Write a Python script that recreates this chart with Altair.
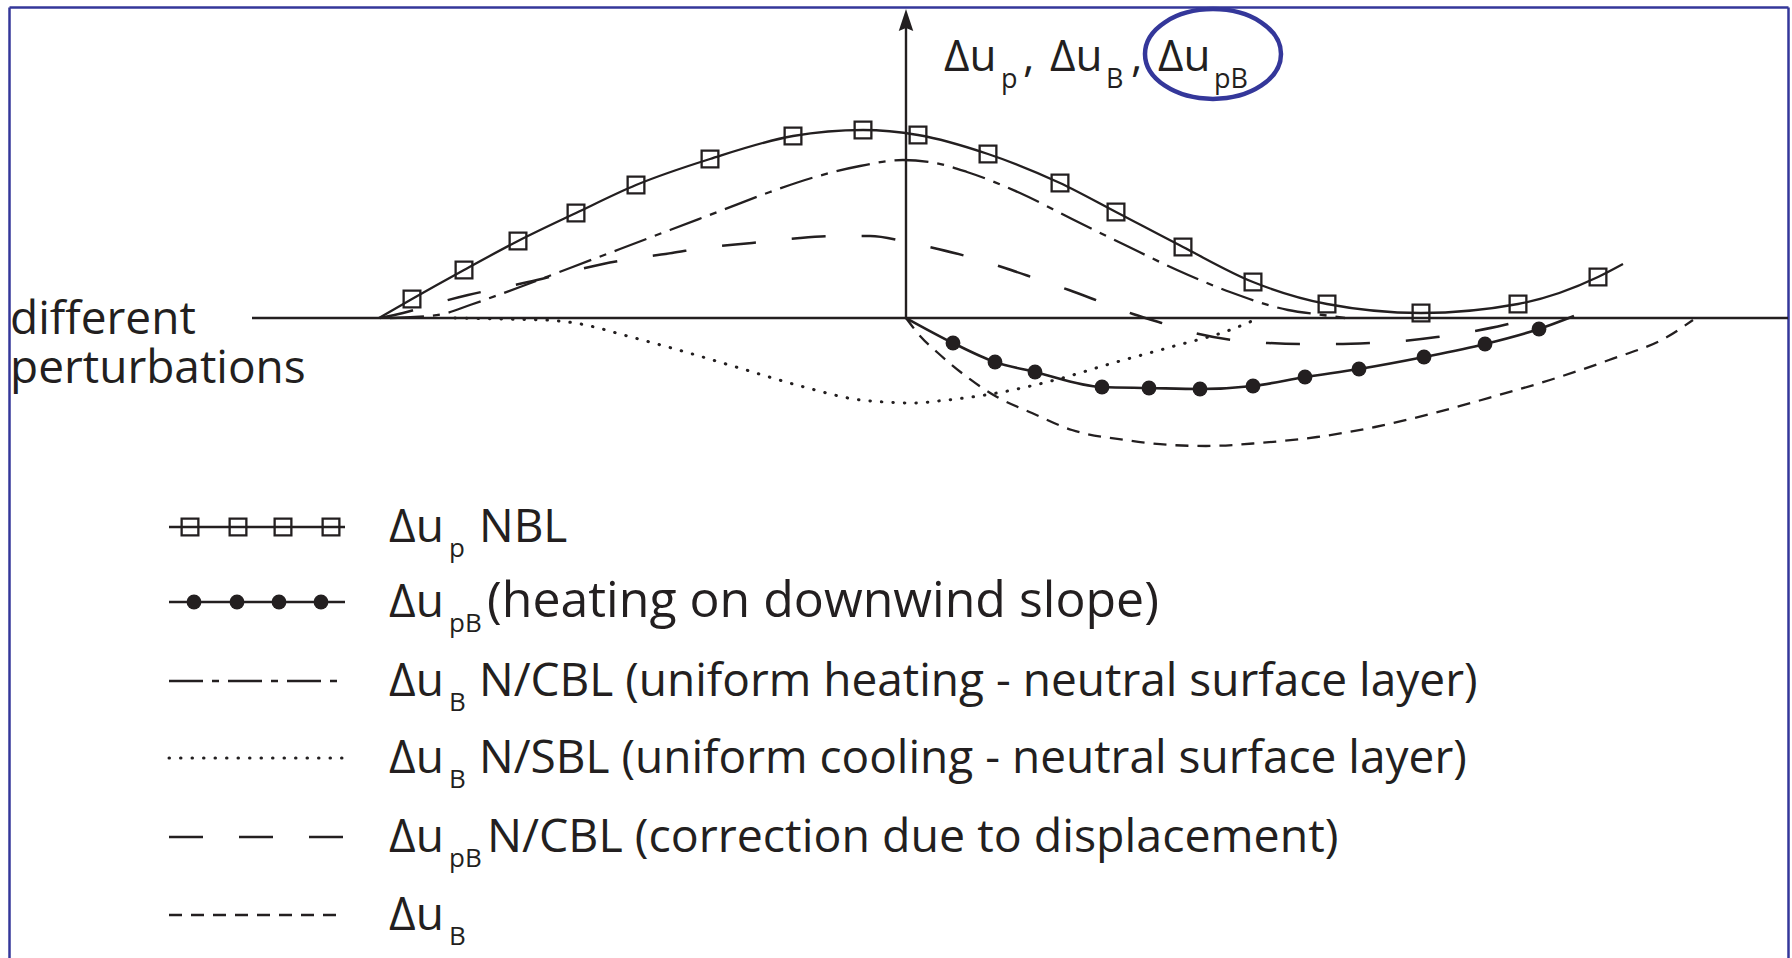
import altair as alt
import pandas as pd

# ---------------------------------------------------------------- layout
W, H = 1792, 958            # page size
OX, OY, U = 906, 318, 100.0  # pixel position of the diagram origin, px per data unit


def X(px):
    return round((px - OX) / U, 3)


def Y(py):
    return round((OY - py) / U, 3)


# ---------------------------------------------------------------- data
# Δu_p NBL (solid line with open squares)
nbl_x = [-5.27, -4.94, -4.42, -3.88, -3.30, -2.70, -1.96, -1.13, -0.43, 0.12, 0.82,
         1.54, 2.10, 2.77, 3.47, 4.21, 5.15, 6.12, 6.92, 7.17]
nbl_y = [0.00, 0.19, 0.48, 0.77, 1.05, 1.33, 1.59, 1.82, 1.88, 1.83, 1.64,
         1.35, 1.06, 0.71, 0.36, 0.14, 0.05, 0.14, 0.41, 0.54]
nbl_mark = [0] + [1] * 18 + [0]

# Δu_pB heating on downwind slope (solid line with filled circles)
heat_x = [0.00, 0.47, 0.89, 1.29, 1.96, 2.43, 2.94, 3.47, 3.99, 4.53, 5.18, 5.79, 6.33, 6.68]
heat_y = [0.00, -0.25, -0.44, -0.54, -0.69, -0.70, -0.71, -0.68, -0.59, -0.51, -0.39, -0.26, -0.11, 0.02]
heat_mark = [0] + [1] * 12 + [0]

# Δu_B N/CBL uniform heating (dash-dot)
cbl_x = [-5.16, -4.91, -4.63, -4.36, -3.86, -3.36, -2.86, -2.36, -1.86, -1.36, -0.91, -0.46,
         -0.03, 0.24, 0.61, 1.14, 1.66, 2.19, 2.71, 3.24, 3.82, 4.17, 4.39]
cbl_y = [0.00, 0.01, 0.04, 0.13, 0.31, 0.50, 0.69, 0.88, 1.07, 1.26, 1.41, 1.52,
         1.58, 1.56, 1.46, 1.25, 0.99, 0.73, 0.48, 0.26, 0.08, 0.03, 0.00]

# Δu_B N/SBL uniform cooling (dotted)
sbl_x = [-4.51, -4.06, -3.61, -3.31, -2.75, -2.17, -1.60, -1.02, -0.45, 0.09, 0.32, 0.91,
         1.49, 2.07, 2.65, 3.24, 3.53]
sbl_y = [0.00, -0.01, -0.02, -0.05, -0.19, -0.35, -0.52, -0.69, -0.82, -0.85, -0.83, -0.75,
         -0.62, -0.45, -0.29, -0.12, 0.00]

# Δu_pB N/CBL correction due to displacement (long dashes)
corr_x = [-5.26, -5.03, -4.69, -4.38, -4.01, -3.69, -3.38, -3.03, -2.69, -2.34, -2.03, -1.54,
          -1.06, -0.66, -0.36, 0.01, 0.32, 0.67, 0.99, 1.31, 1.63, 1.95, 2.27, 2.59, 2.93,
          3.26, 3.62, 3.96, 4.29, 4.64, 4.96, 5.31, 5.63, 5.98, 6.24]
corr_y = [0.00, 0.05, 0.15, 0.23, 0.31, 0.38, 0.46, 0.54, 0.60, 0.65, 0.70, 0.75,
          0.80, 0.82, 0.82, 0.76, 0.69, 0.60, 0.50, 0.39, 0.28, 0.16, 0.04, -0.06, -0.16,
          -0.22, -0.25, -0.26, -0.26, -0.25, -0.23, -0.19, -0.14, -0.07, 0.00]

# Δu_B (short dashes)
ub_x = [0.00, 0.15, 0.32, 0.61, 0.91, 1.26, 1.66, 2.19, 2.65, 3.00, 3.53, 4.11, 4.69,
        5.28, 5.86, 6.44, 7.03, 7.61, 7.87]
ub_y = [0.00, -0.19, -0.35, -0.59, -0.79, -0.95, -1.12, -1.22, -1.27, -1.28, -1.25, -1.19, -1.09,
        -0.95, -0.79, -0.62, -0.42, -0.19, -0.02]

# legend entries: (main, subscript, rest)
legend_main = ["Δu", "Δu", "Δu", "Δu", "Δu", "Δu"]
legend_sub = ["p", "pB", "B", "B", "pB", "B"]
legend_rest = ["NBL",
               "(heating on downwind slope)",
               "N/CBL (uniform heating - neutral surface layer)",
               "N/SBL (uniform cooling - neutral surface layer)",
               "N/CBL (correction due to displacement)",
               ""]
axis_main = ["Δu", "Δu", "Δu"]
axis_sub = ["p", "B", "pB"]
side_label = ["different", "perturbations"]

# ---------------------------------------------------------------- layout constants (px)
ROW_Y = [527, 602, 681, 758, 837, 915]
REST_FS = [46, 50, 46, 46, 46.5, 46]
LEG_X0, LEG_X1 = 169, 345
SQ_LEG_X = [190, 238, 283, 331]
CI_LEG_X = [194, 237, 279, 321]
FS, FS_SUB = 46, 26
INK = "#231f20"
BLUE = "#34379a"

xs = alt.Scale(domain=[X(0), X(W)], nice=False, zero=False)
ys = alt.Scale(domain=[Y(H), Y(0)], nice=False, zero=False)
XE = dict(scale=xs, axis=None)
YE = dict(scale=ys, axis=None)


def curve_df(xv, yv, row):
    rows = [dict(x=a, y=b, part="curve", i=k) for k, (a, b) in enumerate(zip(xv, yv))]
    rows += [dict(x=X(LEG_X0), y=Y(ROW_Y[row]), part="legend", i=0),
             dict(x=X(LEG_X1), y=Y(ROW_Y[row]), part="legend", i=1)]
    return pd.DataFrame(rows)


def line_layer(df, dash=None, width=2.3, cap="butt"):
    kw = dict(color=INK, strokeWidth=width, strokeCap=cap, interpolate="monotone")
    if dash is not None:
        kw["strokeDash"] = dash
    return alt.Chart(df).mark_line(**kw).encode(
        x=alt.X("x:Q", **XE),
        y=alt.Y("y:Q", **YE),
        detail="part:N",
        order="i:Q",
    )


layers = []

# frame (blue box)
frame = pd.DataFrame({"k": [0]})
layers.append(alt.Chart(frame).mark_rule(color=BLUE, strokeWidth=2.5).encode(
    x=alt.value(9.5), x2=alt.value(1788.5), y=alt.value(7.5)))
layers.append(alt.Chart(frame).mark_rule(color=BLUE, strokeWidth=2.5).encode(
    x=alt.value(9.5), y=alt.value(7.5), y2=alt.value(H + 5)))
layers.append(alt.Chart(frame).mark_rule(color=BLUE, strokeWidth=2.5).encode(
    x=alt.value(1788.5), y=alt.value(7.5), y2=alt.value(H + 5)))

# diagram axes
axes_df = pd.DataFrame([
    dict(x=X(252), y=0.0, x2=X(1788), y2=0.0),
    dict(x=0.0, y=0.0, x2=0.0, y2=Y(24)),
])
layers.append(alt.Chart(axes_df).mark_rule(color=INK, strokeWidth=2.4).encode(
    x=alt.X("x:Q", **XE), y=alt.Y("y:Q", **YE), x2="x2:Q", y2="y2:Q"))
arrow = pd.DataFrame([dict(x=0.0, y=Y(20))])
layers.append(alt.Chart(arrow).mark_point(
    shape="M0,-1 L0.66,1 L0,0.72 L-0.66,1 Z", size=484, filled=True, fill=INK, opacity=1,
    strokeWidth=0).encode(x=alt.X("x:Q", **XE), y=alt.Y("y:Q", **YE)))

# curves + legend samples
d_nbl = curve_df(nbl_x, nbl_y, 0)
d_heat = curve_df(heat_x, heat_y, 1)
d_cbl = curve_df(cbl_x, cbl_y, 2)
d_sbl = curve_df(sbl_x, sbl_y, 3)
d_corr = curve_df(corr_x, corr_y, 4)
d_ub = curve_df(ub_x, ub_y, 5)

layers.append(line_layer(d_cbl, dash=[34, 9, 7, 9]))
layers.append(line_layer(d_sbl, dash=[0.5, 11], width=3, cap="round"))
layers.append(line_layer(d_corr, dash=[34, 36], width=2.5))
layers.append(line_layer(d_ub, dash=[13, 9]))
layers.append(line_layer(d_nbl, width=2.3))
layers.append(line_layer(d_heat, width=2.6))

# markers
sq = pd.DataFrame({"x": [a for a, m in zip(nbl_x, nbl_mark) if m] + [X(v) for v in SQ_LEG_X],
                   "y": [b for b, m in zip(nbl_y, nbl_mark) if m] + [Y(ROW_Y[0])] * 4})
ci = pd.DataFrame({"x": [a for a, m in zip(heat_x, heat_mark) if m] + [X(v) for v in CI_LEG_X],
                   "y": [b for b, m in zip(heat_y, heat_mark) if m] + [Y(ROW_Y[1])] * 4})
layers.append(alt.Chart(sq).mark_point(shape="square", size=280, filled=False, color=INK,
                                       strokeWidth=2.3, opacity=1).encode(
    x=alt.X("x:Q", **XE), y=alt.Y("y:Q", **YE)))
layers.append(alt.Chart(ci).mark_point(shape="circle", size=220, filled=True, color=INK,
                                       opacity=1).encode(
    x=alt.X("x:Q", **XE), y=alt.Y("y:Q", **YE)))

# blue ellipse around Δu_pB
k, r = 0.5523, 0.66
ell_path = (f"M-1,0 C-1,{-k*r:.4f} {-k:.4f},{-r} 0,{-r} C{k:.4f},{-r} 1,{-k*r:.4f} 1,0 "
            f"C1,{k*r:.4f} {k:.4f},{r} 0,{r} C{-k:.4f},{r} -1,{k*r:.4f} -1,0 Z")
ell = pd.DataFrame([dict(x=X(1213), y=Y(54))])
layers.append(alt.Chart(ell).mark_point(shape=ell_path, size=136 ** 2, filled=False,
                                        color=BLUE, strokeWidth=4.5, opacity=1).encode(
    x=alt.X("x:Q", **XE), y=alt.Y("y:Q", **YE)))

# texts
T = []
for i in range(6):
    base = ROW_Y[i] + 15
    T.append(dict(x=X(389), y=Y(base), text=legend_main[i], size=FS))
    T.append(dict(x=X(449), y=Y(base + 15), text=legend_sub[i], size=FS_SUB))
    rest_x = 487 if legend_sub[i] == "pB" else 479
    if legend_rest[i]:
        T.append(dict(x=X(rest_x), y=Y(base), text=legend_rest[i], size=REST_FS[i]))
AX_MAIN_X = [944, 1050, 1158]
AX_SUB_X = [1001, 1106, 1214]
for j in range(3):
    T.append(dict(x=X(AX_MAIN_X[j]), y=Y(71), text=axis_main[j], size=44))
    T.append(dict(x=X(AX_SUB_X[j]), y=Y(88), text=axis_sub[j], size=27))
for cx in [1023, 1131]:
    T.append(dict(x=X(cx), y=Y(71), text=",", size=44))
tdf = pd.DataFrame(T)
layers.append(alt.Chart(tdf).mark_text(font="Open Sans", align="left", baseline="alphabetic",
                                       color=INK).encode(
    x=alt.X("x:Q", **XE), y=alt.Y("y:Q", **YE),
    text="text:N", size=alt.Size("size:Q", scale=None)))

# two-line side label
side = pd.DataFrame([dict(x=X(10), y=Y(334))])
layers.append(alt.Chart(side).mark_text(font="Open Sans", align="left", baseline="alphabetic",
                                        color=INK, fontSize=46, lineHeight=49).encode(
    x=alt.X("x:Q", **XE), y=alt.Y("y:Q", **YE), text=alt.value(side_label)))

chart = alt.layer(*layers).properties(
    width=W, height=H, padding=0, background="white",
    autosize=alt.AutoSizeParams(type="none"),
).configure_view(strokeWidth=0)

chart.save("out.html", embed_options={"renderer": "svg", "actions": False})
